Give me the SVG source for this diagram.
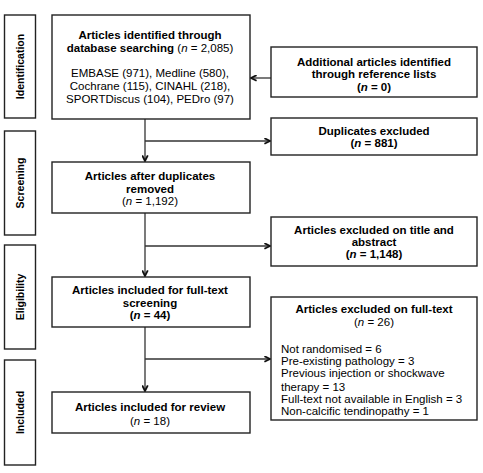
<svg xmlns="http://www.w3.org/2000/svg" width="483" height="473" viewBox="0 0 483 473">
<defs>
<style>
.box{fill:#fff;stroke:#222;stroke-width:1.4}
.t{font-family:"Liberation Sans",Arial,sans-serif;font-size:11.5px;fill:#000}
.b{font-weight:bold}
.c{text-anchor:middle}
.r{font-weight:normal}
.side{font-family:"Liberation Sans",Arial,sans-serif;font-size:10.5px;font-weight:bold;text-anchor:middle;fill:#000}
.ln{fill:none;stroke:#333;stroke-width:1.3}
</style>
<marker id="ah" viewBox="0 0 10 10" refX="9" refY="5" markerWidth="7" markerHeight="7" markerUnits="userSpaceOnUse" orient="auto">
<path d="M1,1 L9,5 L1,9" fill="none" stroke="#111" stroke-width="2.6"/>
</marker>
</defs>
<rect width="483" height="473" fill="#fff"/>
<g id="side-identification"><rect class="box" x="4.5" y="15" width="31" height="103"/><text class="side" transform="translate(24,66.5) rotate(-90)">Identification</text></g>
<g id="side-screening"><rect class="box" x="4.5" y="131" width="31" height="104"/><text class="side" transform="translate(24,183) rotate(-90)">Screening</text></g>
<g id="side-eligibility"><rect class="box" x="4.5" y="245" width="31" height="104"/><text class="side" transform="translate(24,297) rotate(-90)">Eligibility</text></g>
<g id="side-included"><rect class="box" x="4.5" y="360" width="31" height="105"/><text class="side" transform="translate(24,412.5) rotate(-90)">Included</text></g>

<g id="connectors">
<path class="ln" d="M145,119 V161" marker-end="url(#ah)"/>
<path class="ln" d="M145,213 V276" marker-end="url(#ah)"/>
<path class="ln" d="M145,327 V391" marker-end="url(#ah)"/>
<path class="ln" d="M145,141 H270" marker-end="url(#ah)"/>
<path class="ln" d="M145,246 H270" marker-end="url(#ah)"/>
<path class="ln" d="M145,359 H270" marker-end="url(#ah)"/>
<path class="ln" d="M271,78 H251" marker-end="url(#ah)"/>
</g>

<g id="n1"><rect class="box" x="52" y="15" width="198" height="104"/>
<text class="t b c" x="150" y="39">Articles identified through</text>
<text class="t b c" x="150" y="52">database searching <tspan class="r">(<tspan font-style="italic">n</tspan> = 2,085)</tspan></text>
<text class="t c" x="150" y="77">EMBASE (971), Medline (580),</text>
<text class="t c" x="150" y="90">Cochrane (115), CINAHL (218),</text>
<text class="t c" x="150" y="103">SPORTDiscus (104), PEDro (97)</text>
</g>
<g id="n2"><rect class="box" x="271" y="47" width="206" height="50"/>
<text class="t b c" x="374" y="66">Additional articles identified</text>
<text class="t b c" x="374" y="78">through reference lists</text>
<text class="t b c" x="374" y="91">(<tspan font-style="italic">n</tspan> = 0)</text>
</g>
<g id="n3"><rect class="box" x="271" y="118" width="206" height="37"/>
<text class="t b c" x="374" y="135">Duplicates excluded</text>
<text class="t b c" x="374" y="147">(<tspan font-style="italic">n</tspan> = 881)</text>
</g>
<g id="n4"><rect class="box" x="52" y="162" width="198" height="51"/>
<text class="t b c" x="150" y="180">Articles after duplicates</text>
<text class="t b c" x="150" y="193">removed</text>
<text class="t c" x="150" y="205">(<tspan font-style="italic">n</tspan> = 1,192)</text>
</g>
<g id="n5"><rect class="box" x="271" y="217" width="206" height="49"/>
<text class="t b c" x="374" y="234">Articles excluded on title and</text>
<text class="t b c" x="374" y="246">abstract</text>
<text class="t b c" x="374" y="258">(<tspan font-style="italic">n</tspan> = 1,148)</text>
</g>
<g id="n6"><rect class="box" x="52" y="277" width="198" height="50"/>
<text class="t b c" x="150" y="294">Articles included for full-text</text>
<text class="t b c" x="150" y="307">screening</text>
<text class="t b c" x="150" y="319">(<tspan font-style="italic">n</tspan> = 44)</text>
</g>
<g id="n7"><rect class="box" x="271" y="297" width="206" height="123"/>
<text class="t b c" x="374" y="313">Articles excluded on full-text</text>
<text class="t c" x="374" y="326">(<tspan font-style="italic">n</tspan> = 26)</text>
<text class="t" x="281" y="353">Not randomised = 6</text>
<text class="t" x="281" y="365">Pre-existing pathology = 3</text>
<text class="t" x="281" y="377">Previous injection or shockwave</text>
<text class="t" x="281" y="391">therapy = 13</text>
<text class="t" x="281" y="403">Full-text not available in English = 3</text>
<text class="t" x="281" y="415">Non-calcific tendinopathy = 1</text>
</g>
<g id="n8"><rect class="box" x="52" y="392" width="198" height="41"/>
<text class="t b c" x="150" y="411">Articles included for review</text>
<text class="t c" x="150" y="425">(<tspan font-style="italic">n</tspan> = 18)</text>
</g>
</svg>
